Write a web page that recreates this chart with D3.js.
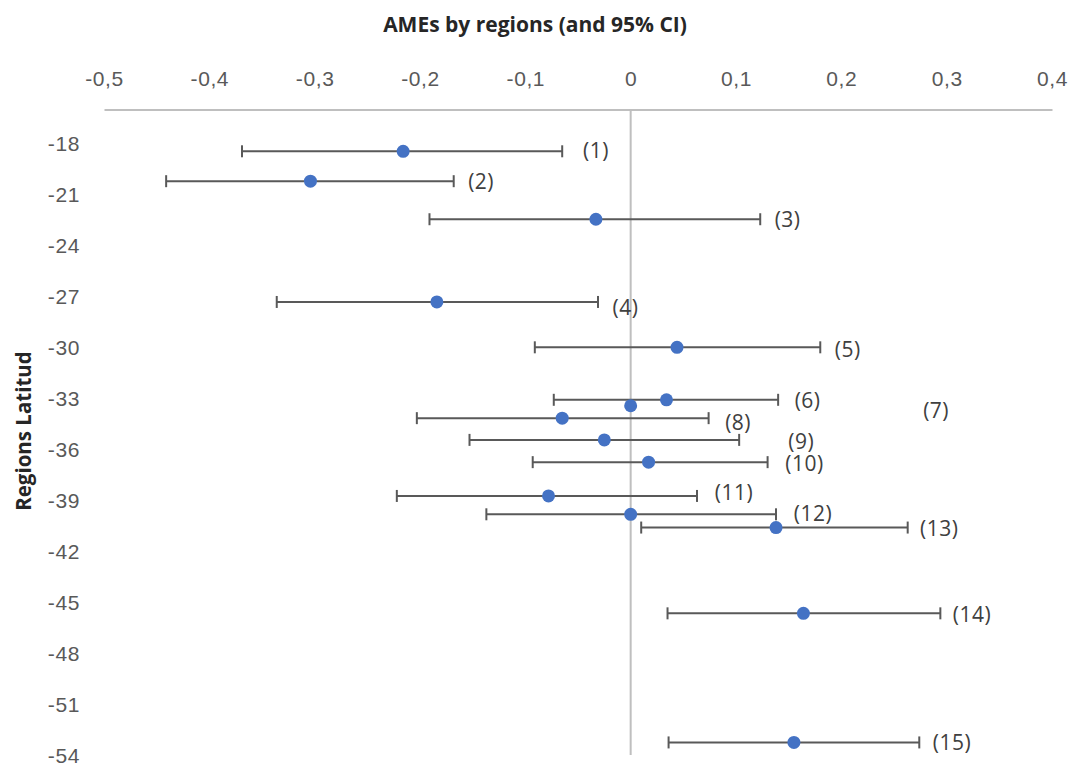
<!DOCTYPE html>
<html>
<head>
<meta charset="utf-8">
<script src="https://cdn.jsdelivr.net/npm/d3@7"></script>
<style>
	body { margin: 0; background: #fff; }
	svg { display: block; font-family: "Open Sans", sans-serif; }
	.tick-label { fill: #595959; font-size: 21px; letter-spacing: 0.6px; }
	.point-label { fill: #404040; font-size: 21px; letter-spacing: 0.5px; }
	.axis-title { fill: #262626; font-weight: bold; }
</style>
</head>
<body>
<svg id="chart" width="1072" height="765"></svg>
<script>
// regions, their latitude, average marginal effect and 95% CI
const regions = ["(1)", "(2)", "(3)", "(4)", "(5)", "(6)", "(7)", "(8)", "(9)", "(10)", "(11)", "(12)", "(13)", "(14)", "(15)"];
const latitude = [-18.46, -20.22, -22.46, -27.33, -30.0, -33.09, -33.44, -34.17, -35.45, -36.76, -38.75, -39.83, -40.61, -45.66, -53.26];
const ame = [-0.216, -0.304, -0.033, -0.184, 0.044, 0.034, 0.0, -0.065, -0.025, 0.017, -0.078, 0.0, 0.138, 0.164, 0.155];
const ciLow = [-0.369, -0.441, -0.191, -0.336, -0.091, -0.073, 0.0, -0.203, -0.153, -0.093, -0.222, -0.137, 0.010, 0.035, 0.036];
const ciHigh = [-0.065, -0.168, 0.123, -0.031, 0.180, 0.140, 0.0, 0.074, 0.103, 0.130, 0.063, 0.138, 0.263, 0.294, 0.274];

// where the region labels sit (in data units)
const labelX = [-0.033, -0.142, 0.149, -0.005, 0.206, 0.168, 0.290, 0.102, 0.162, 0.165, 0.098, 0.173, 0.293, 0.324, 0.305];
const labelLat = [-18.40, -20.22, -22.48, -27.65, -30.14, -33.15, -33.74, -34.46, -35.55, -36.82, -38.55, -39.77, -40.67, -45.76, -53.28];

const xTicks = [-0.5, -0.4, -0.3, -0.2, -0.1, 0, 0.1, 0.2, 0.3, 0.4];
const yTicks = [-18, -21, -24, -27, -30, -33, -36, -39, -42, -45, -48, -51, -54];
const xDomain = [-0.5, 0.4];
const yDomain = [-54, -16];

const title = "AMEs by regions (and 95% CI)";
const yTitle = "Regions Latitud";

const plot = { left: 104, right: 1052, top: 109.5, bottom: 755 };

const svg = d3.select("#chart");

const x = d3.scaleLinear()
	.domain(xDomain)
	.range([plot.left, plot.right]);

const y = d3.scaleLinear()
	.domain(yDomain)
	.range([plot.bottom, plot.top]);

// excel style: comma decimals and a plain hyphen for negatives
const localeFormat = d3.formatLocale({ decimal: ",", thousands: ".", grouping: [3], currency: ["", ""], minus: "-" }).format("~g");
const tickFormat = (d) => localeFormat(d);

const data = regions.map((r, i) => ({
	region: r,
	lat: latitude[i],
	ame: ame[i],
	lo: ciLow[i],
	hi: ciHigh[i],
	lx: labelX[i],
	ly: labelLat[i]
}));

// title
svg.append("text")
	.attr("class", "axis-title")
	.attr("x", 535)
	.attr("y", 32)
	.attr("text-anchor", "middle")
	.style("font-size", "21px")
	.text(title);

// y title
svg.append("text")
	.attr("class", "axis-title")
	.attr("transform", `translate(31, ${(plot.top + plot.bottom) / 2})`)
	.attr("text-anchor", "middle")
	.attr("transform", `translate(31, 431) rotate(-90)`)
	.style("font-size", "20.5px")
	.text(yTitle);

// x axis along the top
const xAxis = svg.append("g")
	.attr("transform", `translate(0, ${plot.top})`)
	.call(d3.axisTop(x).tickValues(xTicks).tickFormat(tickFormat).tickSize(0).tickPadding(24));

xAxis.select(".domain")
	.attr("stroke", "#bfbfbf")
	.attr("stroke-width", 2);
xAxis.selectAll("text")
	.attr("class", "tick-label")
	.attr("font-family", null)
	.attr("font-size", null)
	.attr("fill", null);

// y axis labels on the left
const yAxis = svg.append("g")
	.attr("transform", `translate(80, 0)`)
	.call(d3.axisLeft(y).tickValues(yTicks).tickFormat(tickFormat).tickSize(0).tickPadding(0));

yAxis.select(".domain").remove();
yAxis.selectAll("text")
	.attr("class", "tick-label")
	.attr("font-family", null)
	.attr("font-size", null)
	.attr("fill", null)
	.attr("dy", "0.35em");

// vertical axis line at zero
svg.append("line")
	.attr("x1", x(0))
	.attr("x2", x(0))
	.attr("y1", y(yDomain[1]))
	.attr("y2", y(yDomain[0]))
	.attr("stroke", "#bfbfbf")
	.attr("stroke-width", 2);

// error bars
const bars = svg.append("g")
	.attr("stroke", "#595959")
	.attr("stroke-width", 2)
	.selectAll("g")
	.data(data.filter((d) => d.hi > d.lo))
	.join("g");

bars.append("line")
	.attr("x1", (d) => x(d.lo))
	.attr("x2", (d) => x(d.hi))
	.attr("y1", (d) => y(d.lat))
	.attr("y2", (d) => y(d.lat));

bars.selectAll(".cap")
	.data((d) => [d.lo, d.hi].map((v) => ({ v, lat: d.lat })))
	.join("line")
	.attr("class", "cap")
	.attr("x1", (d) => x(d.v))
	.attr("x2", (d) => x(d.v))
	.attr("y1", (d) => y(d.lat) - 6)
	.attr("y2", (d) => y(d.lat) + 6);

// points
svg.append("g")
	.selectAll("circle")
	.data(data)
	.join("circle")
	.attr("cx", (d) => x(d.ame))
	.attr("cy", (d) => y(d.lat))
	.attr("r", 6.5)
	.attr("fill", "#4472c4");

// region labels
svg.append("g")
	.selectAll("text")
	.data(data)
	.join("text")
	.attr("class", "point-label")
	.attr("x", (d) => x(d.lx))
	.attr("y", (d) => y(d.ly))
	.attr("dy", "0.35em")
	.attr("text-anchor", "middle")
	.text((d) => d.region);
</script>
</body>
</html>
